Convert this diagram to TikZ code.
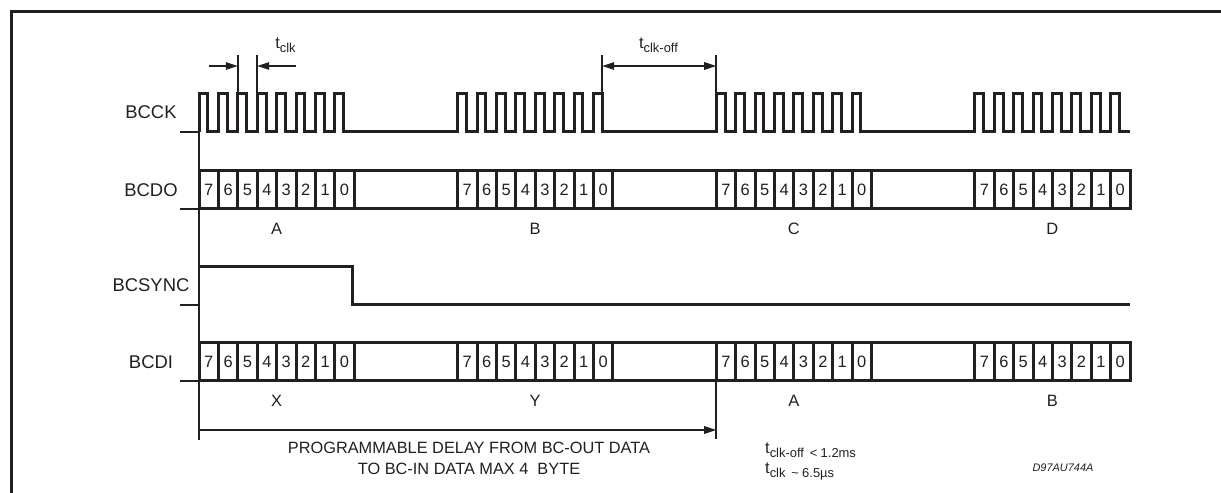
\documentclass[tikz,border=0pt]{standalone}
\usepackage{fontspec}
\setmainfont{Liberation Sans}
\usetikzlibrary{arrows.meta,calc}
\definecolor{ink}{RGB}{35,31,32}
\newcommand{\mytsub}[1]{{\fontsize{16.5}{16}\selectfont t}\raisebox{-4bp}{\fontsize{13}{13}\selectfont #1}}
\tikzset{
  sig/.style={draw=ink, line width=3bp, line join=miter},
  tickline/.style={draw=ink, line width=1.5bp},
  frameline/.style={draw=ink, line width=3bp},
  dimarrow/.style={tickline, -{Triangle[length=12bp,width=7.5bp]}},
  dimboth/.style={tickline, {Triangle[length=12bp,width=7.5bp]}-{Triangle[length=12bp,width=7.5bp]}},
  lbl/.style={text=ink, font=\fontsize{18.5}{20}\selectfont, inner sep=0pt},
  digit/.style={text=ink, font=\fontsize{16.5}{16}\selectfont, inner sep=0pt},
  grp/.style={text=ink, font=\fontsize{16.5}{16}\selectfont, inner sep=0pt},
  note/.style={text=ink, font=\fontsize{16.4}{21}\selectfont, inner sep=0pt, align=center},
}
\def\cw{19.4}
\def\gs{258.6}
\begin{document}
\begin{tikzpicture}[x=1bp,y=-1bp]
\useasboundingbox (0,0) rectangle (1221,493);
% frame
\draw[frameline] (11,495) -- (11,12) -- (1223,12);
% signal labels
\node[lbl] (lck) at (151,112.5) {BCCK};
\node[lbl] (ldo) at (151,190) {BCDO};
\node[lbl] (lsy) at (151,285) {BCSYNC};
\node[lbl] (ldi) at (151,361.7) {BCDI};
% reference line and stubs
\coordinate (reftop) at (199,93);
\coordinate (refbot) at (199,440);
\draw[tickline] (reftop) -- (refbot);
\foreach \yy/\nm in {132/ck,209/do,305/sy,381/di}{
  \coordinate (s\nm) at (180,\yy);
  \coordinate (e\nm) at (199,\yy);
  \draw[tickline] (s\nm) -- (e\nm);
}
% BCCK
\draw[sig] (199,132)
  \foreach \k in {0,...,3}{
    \foreach \i in {0,...,7}{
      -- ({199+\gs*\k+\i*\cw},132) -- ++(0,-38) -- ++(8.8,0) -- ++(0,38)
    }
  } -- (1130,132);
% BCDO and BCDI
\foreach \yt/\yb/\nm in {171/209/do,343/381/di}{
  \draw[sig] (199,\yt) rectangle (1130,\yb);
  \foreach \k in {0,...,3}{
    \foreach \i in {0,...,8}{
      \draw[sig] ({199+\gs*\k+\i*\cw},\yt) -- ({199+\gs*\k+\i*\cw},\yb);
    }
    \foreach \i [evaluate=\i as \d using int(7-\i)] in {0,...,7}{
      \node[digit] (\nm-\k-\i) at ({199+\gs*\k+(\i+0.5)*\cw},{(\yt+\yb)/2}) {\d};
    }
  }
}
% group labels
\foreach \k/\t in {0/A,1/B,2/C,3/D}{
  \node[grp] (go\k) at ({199+\gs*\k+4*\cw},229) {\t};
}
\foreach \k/\t in {0/X,1/Y,2/A,3/B}{
  \node[grp] (gi\k) at ({199+\gs*\k+4*\cw},401) {\t};
}
% BCSYNC
\draw[sig] (199,267) -- (352.2,267) -- (352.2,305) -- (1130,305);
% t_clk
\coordinate (c1t) at ({199+2*\cw},55);
\coordinate (c1b) at ({199+2*\cw},94);
\coordinate (c2t) at ({199+3*\cw},55);
\coordinate (c2b) at ({199+3*\cw},94);
\draw[tickline] (c1t) -- (c1b);
\draw[tickline] (c2t) -- (c2b);
\coordinate (a1s) at (209,66);
\coordinate (a1e) at ({199+2*\cw},66);
\coordinate (a2s) at (296,66);
\coordinate (a2e) at ({199+3*\cw},66);
\draw[dimarrow] (a1s) -- (a1e);
\draw[dimarrow] (a2s) -- (a2e);
\node[text=ink, inner sep=0pt, anchor=base] (tclk) at (285.5,49) {\mytsub{clk}};
% t_clk-off
\coordinate (o1t) at ({199+\gs+7*\cw+8.8},55);
\coordinate (o1b) at ({199+\gs+7*\cw+8.8},94);
\coordinate (o2t) at ({199+2*\gs},55);
\coordinate (o2b) at ({199+2*\gs},94);
\draw[tickline] (o1t) -- (o1b);
\draw[tickline] (o2t) -- (o2b);
\coordinate (b1) at ({199+\gs+7*\cw+8.8},66);
\coordinate (b2) at ({199+2*\gs},66);
\draw[dimboth] (b1) -- (b2);
\node[text=ink, inner sep=0pt, anchor=base] (tclkoff) at (658.5,49) {\mytsub{clk-off}};
% delay arrow
\coordinate (dl) at (199,430);
\coordinate (dr) at ({199+2*\gs},430);
\coordinate (vt) at ({199+2*\gs},381);
\coordinate (vb) at ({199+2*\gs},439);
\draw[tickline] (vt) -- (vb);
\draw[dimarrow] (dl) -- (dr);
\node[note, anchor=base] (d1) at (469,453) {PROGRAMMABLE DELAY FROM BC-OUT DATA};
\node[note, anchor=base] (d2) at (469,474) {TO BC-IN DATA MAX 4\hspace{0.55em}BYTE};
% notes
\node[text=ink, inner sep=0pt, anchor=base west] (n1) at (765,453) {\mytsub{clk-off\hspace{0.45em}<\hspace{0.25em}1.2ms}};
\node[text=ink, inner sep=0pt, anchor=base west] (n2) at (765,473) {\mytsub{clk\hspace{0.45em}\textasciitilde\hspace{0.25em}6.5µs}};
\node[text=ink, inner sep=0pt, font=\fontsize{11}{11}\selectfont\itshape] (code) at (1063,468) {D97AU744A};
\end{tikzpicture}
\end{document}
